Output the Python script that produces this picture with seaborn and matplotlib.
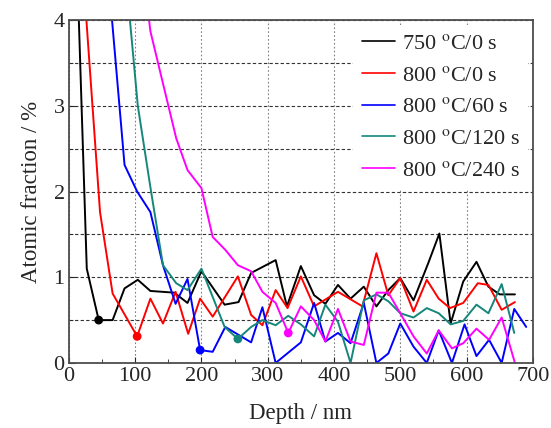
import matplotlib
matplotlib.use("Agg")
import matplotlib.pyplot as plt
import numpy as np
import pandas as pd
import seaborn as sns
from matplotlib.ticker import MultipleLocator

# depth (nm) / atomic fraction (%)
black_x = [8, 27, 45, 66, 84, 104, 123, 159, 179, 200, 235, 256, 275, 312, 329, 350, 370, 387, 406,
           425, 445, 464, 482, 500, 520, 542, 559, 576, 595, 615, 633, 650, 673]
black_y = [5.7, 1.1, 0.5, 0.5, 0.87, 0.97, 0.84, 0.82, 0.70, 1.07, 0.68, 0.71, 1.05, 1.20, 0.66, 1.13,
           0.79, 0.69, 0.91, 0.75, 0.89, 0.66, 0.85, 0.99, 0.73, 1.16, 1.51, 0.46, 0.95, 1.18, 0.89,
           0.80, 0.80]

red_x = [9, 47, 66, 103, 123, 142, 161, 180, 198, 217, 255, 275, 292, 312, 330, 350, 370, 387, 406,
         443, 464, 482, 500, 520, 540, 558, 575, 595, 617, 633, 653, 673]
red_y = [5.9, 1.76, 0.81, 0.31, 0.75, 0.46, 0.83, 0.34, 0.75, 0.54, 1.01, 0.56, 0.44, 0.85, 0.64,
         1.01, 0.66, 0.74, 0.83, 0.66, 1.28, 0.79, 0.99, 0.60, 0.97, 0.75, 0.64, 0.70, 0.93, 0.91,
         0.62, 0.71]

blue_x = [64, 84, 103, 123, 142, 161, 179, 198, 217, 236, 275, 292, 312, 350, 370, 387, 406, 425,
          445, 464, 482, 500, 520, 540, 558, 578, 597, 615, 634, 653, 672, 690]
blue_y = [4.1, 2.31, 2.0, 1.76, 1.14, 0.69, 0.98, 0.15, 0.13, 0.42, 0.24, 0.65, 0.0, 0.24, 0.70,
          0.25, 0.35, 0.23, 0.70, 0.0, 0.11, 0.46, 0.19, 0.0, 0.38, 0.0, 0.45, 0.08, 0.27, 0.0,
          0.63, 0.42]

teal_x = [85, 104, 123, 142, 162, 179, 200, 235, 255, 275, 292, 312, 331, 350, 370, 387, 406, 425,
          445, 464, 482, 500, 520, 540, 558, 576, 595, 615, 633, 653, 672]
teal_y = [4.6, 3.0, 2.05, 1.14, 0.93, 0.85, 1.10, 0.42, 0.28, 0.42, 0.5, 0.44, 0.55, 0.45, 0.31,
          0.68, 0.48, 0.0, 0.73, 0.80, 0.72, 0.58, 0.53, 0.64, 0.58, 0.45, 0.49, 0.68, 0.58, 0.92,
          0.35]

pink_x = [104, 123, 142, 162, 179, 200, 217, 236, 255, 275, 292, 312, 331, 350, 370, 387, 406, 425,
          445, 464, 482, 500, 520, 540, 558, 578, 595, 615, 634, 653, 673]
pink_y = [5.1, 3.87, 3.26, 2.62, 2.25, 2.04, 1.47, 1.32, 1.14, 1.07, 0.83, 0.70, 0.35, 0.66, 0.5,
          0.25, 0.63, 0.25, 0.21, 0.82, 0.82, 0.58, 0.31, 0.11, 0.38, 0.17, 0.23, 0.40, 0.27, 0.53,
          0.0]

labels = [r"750 $^{\rm o}$C/0 s", r"800 $^{\rm o}$C/0 s", r"800 $^{\rm o}$C/60 s",
          r"800 $^{\rm o}$C/120 s", r"800 $^{\rm o}$C/240 s"]
colors = ["#000000", "#ff0000", "#0000ff", "#15877a", "#ff00ff"]

# highlighted points, one per curve
mark_x = [45, 103, 198, 255, 331]
mark_y = [0.5, 0.31, 0.15, 0.28, 0.35]

frames = []
for lab, xs, ys in zip(labels, [black_x, red_x, blue_x, teal_x, pink_x],
                       [black_y, red_y, blue_y, teal_y, pink_y]):
    frames.append(pd.DataFrame({"depth": xs, "frac": ys, "series": lab}))
df = pd.concat(frames, ignore_index=True)
marks = pd.DataFrame({"depth": mark_x, "frac": mark_y, "series": labels})

sns.set_style("ticks")
plt.rcParams["font.family"] = ["Liberation Serif", "DejaVu Serif"]
plt.rcParams["mathtext.fontset"] = "stix"

fig, ax = plt.subplots(figsize=(5.51, 4.28), dpi=100)
fig.subplots_adjust(left=0.125, right=0.967, top=0.953, bottom=0.152)

ax.xaxis.set_major_locator(MultipleLocator(100))
ax.xaxis.set_minor_locator(MultipleLocator(50))
ax.yaxis.set_major_locator(MultipleLocator(1))
ax.yaxis.set_minor_locator(MultipleLocator(0.5))
ax.grid(which="major", axis="x", linestyle=(0, (1.5, 2)), color="0.5", lw=0.8)
ax.grid(which="both", axis="y", linestyle=(0, (3, 2)), color="0.2", lw=0.8)
ax.set_axisbelow(True)

sns.lineplot(data=df, x="depth", y="frac", hue="series", palette=colors, sort=False,
             estimator=None, lw=1.4, ax=ax)
sns.scatterplot(data=marks, x="depth", y="frac", hue="series", palette=colors, s=40,
                edgecolor="none", legend=False, ax=ax, zorder=5)

ax.set_xlim(0, 700)
ax.set_ylim(0, 4)
ax.tick_params(which="both", direction="in", labelsize=16, top=False, right=False, pad=3)
ax.tick_params(which="major", length=4)
ax.tick_params(which="minor", length=3)
for s in ax.spines.values():
    s.set_color("0.3")
    s.set_linewidth(1.3)

ax.set_xlabel("Depth / nm", fontsize=16.5, labelpad=12)
ax.set_ylabel("Atomic fraction / %", fontsize=16.5, labelpad=8)

leg = ax.legend(loc="upper right", fontsize=16, frameon=True, handlelength=1.5,
                handletextpad=0.3, labelspacing=0.5, borderaxespad=0.2)
leg.get_frame().set_edgecolor("none")
leg.get_frame().set_facecolor("white")
leg.get_frame().set_alpha(1)
for h in leg.get_lines():
    h.set_linewidth(1.2)

fig.savefig("out.png", dpi=100)
